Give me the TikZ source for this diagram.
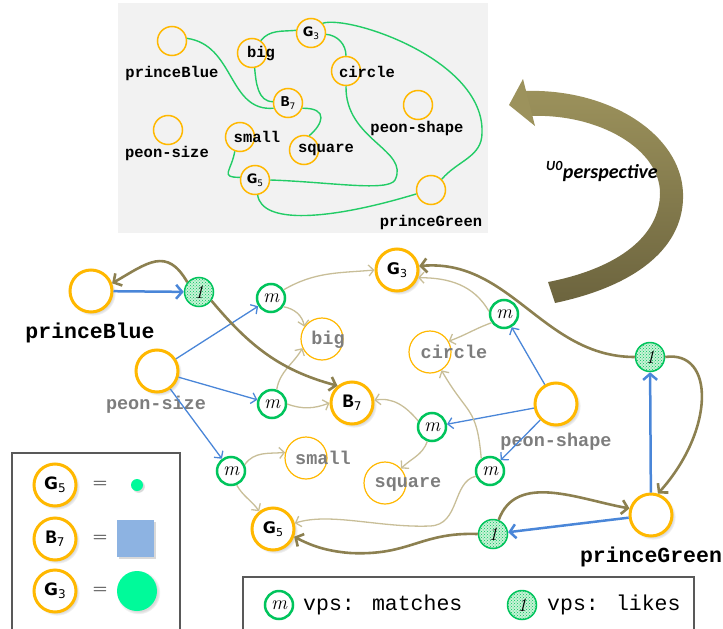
\documentclass[tikz,border=0pt]{standalone}
\usepackage{fontspec}
\usetikzlibrary{arrows.meta,shadows,patterns}
\newfontfamily\monof{Liberation Mono}
\newfontfamily\dvsf{DejaVu Sans}
\newfontfamily\carlf{Carlito}
\definecolor{orng}{RGB}{255,184,0}
\definecolor{grn}{RGB}{0,196,92}
\definecolor{blu}{RGB}{74,134,216}
\definecolor{mytan}{RGB}{200,190,152}
\definecolor{olv}{RGB}{140,128,80}
\definecolor{olvL}{RGB}{156,146,92}
\definecolor{olvD}{RGB}{108,100,62}
\definecolor{gtxt}{RGB}{125,125,125}
\definecolor{igrn}{RGB}{34,204,102}
\definecolor{sgrn}{RGB}{0,250,154}
\definecolor{sqb}{RGB}{141,179,226}
\definecolor{lfill}{RGB}{200,242,214}
\definecolor{boxg}{RGB}{242,242,242}
\newcommand{\Gsub}[3]{{\fontsize{#1}{#1}\selectfont\dvsf\bfseries G}\raisebox{-0.6ex}{\fontsize{#2}{#2}\selectfont\dvsf #3}}
\newcommand{\Bsub}[3]{{\fontsize{#1}{#1}\selectfont\monof\bfseries B}\raisebox{-0.6ex}{\fontsize{#2}{#2}\selectfont\dvsf #3}}
\tikzset{
  othick/.style={circle, draw=orng, line width=3pt, fill=white, minimum size=42pt, inner sep=0pt,
    circular drop shadow={opacity=0.3, shadow xshift=2pt, shadow yshift=-2pt, shadow scale=1.08}},
  othin/.style={circle, draw=orng, line width=1.2pt, fill=white, minimum size=42pt, inner sep=0pt},
  iorng/.style={circle, draw=orng, line width=1.5pt, minimum size=29pt, inner sep=0pt},
  mnode/.style={circle, draw=grn, line width=2.5pt, fill=white, minimum size=28pt, inner sep=0pt, font=\fontsize{20}{20}\selectfont\itshape},
  lnode/.style={circle, draw=grn, line width=1.5pt, fill=lfill, minimum size=29pt, inner sep=0pt,
    postaction={pattern=crosshatch dots, pattern color=grn}, font=\fontsize{19}{19}\selectfont\itshape},
  lab/.style={font=\fontsize{21.5}{21.5}\selectfont\monof\bfseries, inner sep=0pt},
  glab/.style={font=\fontsize{18.5}{18.5}\selectfont\monof\bfseries, text=gtxt, inner sep=0pt},
  ilab/.style={font=\fontsize{15.5}{15.5}\selectfont\monof\bfseries, inner sep=0pt},
  vps/.style={font=\fontsize{21.5}{21.5}\selectfont\monof, inner sep=0pt, anchor=west},
  eqs/.style={font=\fontsize{20}{20}\selectfont, inner sep=0pt},
  blueE/.style={draw=blu, line width=1.3pt, -{Straight Barb[length=5pt,width=11pt]}},
  blueT/.style={draw=blu, line width=2.5pt, -{Straight Barb[length=6pt,width=14pt]}},
  tanE/.style={draw=mytan, line width=1.3pt, -{Straight Barb[length=5pt,width=11pt]}},
  olvE/.style={draw=olv, line width=2.6pt, -{Straight Barb[length=6pt,width=14pt]}},
  iedge/.style={draw=igrn, line width=1.4pt},
}
\begin{document}
\begin{tikzpicture}[x=1pt,y=1pt]
\useasboundingbox (0,0) rectangle (723,-629);

% ---------- inset ----------
\fill[boxg] (118,-3) rectangle (488,-233);
\node[iorng] (iPB) at (172,-41) {};
\node[ilab] (iPBl) at (172,-73) {princeBlue};
\node[iorng] (iPS) at (168,-130) {};
\node[ilab] (iPSl) at (167,-153) {peon-size};
\node[iorng] (iBig) at (252,-53) {};
\node[ilab] (iBigl) at (261,-54) {big};
\node[iorng] (iG3) at (311,-33) {\Gsub{13}{9}{3}};
\node[iorng] (iCirc) at (346,-71) {};
\node[ilab] (iCircl) at (367,-72) {circle};
\node[iorng] (iB7) at (288,-103) {\Bsub{15}{9}{7}};
\node[iorng] (iSm) at (240,-137) {};
\node[ilab] (iSml) at (257,-137) {small};
\node[iorng] (iSq) at (304,-150) {};
\node[ilab] (iSql) at (326,-150) {square};
\node[iorng] (iPSh) at (418,-105) {};
\node[ilab] (iPShl) at (417,-128) {peon-shape};
\node[iorng] (iG5) at (255,-180) {\Gsub{13}{9}{5}};
\node[iorng] (iPG) at (431,-190) {};
\node[ilab] (iPGl) at (431,-222) {princeGreen};

\draw[iedge] (iPB.10) .. controls (235,-45) and (228,-112) .. (iB7.200);
\draw[iedge] (iBig.55) to[out=50,in=185] (iG3.170);
\draw[iedge] (iBig.-80) to[out=-85,in=180] (iB7.175);
\draw[iedge] (iG3.-5) to[out=-5,in=90] (iCirc.north);
\draw[iedge] (iG3.40) .. controls (350,-15) and (485,-60) .. (482,-133) to[out=-90,in=50] (iPG.45);
\draw[iedge] (iCirc.south) .. controls (345,-140) and (410,-150) .. (395,-180) .. controls (388,-192) and (330,-182) .. (iG5.east);
\draw[iedge] (iB7.-20) .. controls (330,-108) and (322,-125) .. (iSq.70);
\draw[iedge] (iSm.-110) to[out=-100,in=180,looseness=2] (iG5.170);
\draw[iedge] (iG5.-80) .. controls (262,-225) and (330,-220) .. (iPG.195);

% ---------- big perspective arrow ----------
\shade[top color=olvL, bottom color=olvD]
  (555,-303) .. controls (640,-285) and (685,-245) .. (683,-193)
  .. controls (681,-135) and (610,-88) .. (524,-91)
  -- (529,-116)
  .. controls (600,-113) and (660,-150) .. (660,-193)
  .. controls (660,-235) and (620,-268) .. (548,-282) -- cycle;
\fill[olvL] (509,-105) -- (523,-79) -- (535,-126) -- cycle;
\node[font=\fontsize{20}{20}\selectfont\carlf\bfseries\itshape, anchor=base, inner sep=0pt] (persp) at (602,-178) {\textsuperscript{U0}perspective};

% ---------- main nodes ----------
\node[othick] (pB) at (91,-291) {};
\node[lab] (pBl) at (90,-333) {princeBlue};
\node[lnode] (l1) at (199,-292) {1};
\node[othick] (pS) at (157,-371) {};
\node[glab] (pSl) at (156,-405) {peon-size};
\node[mnode] (m1) at (271,-298) {m};
\node[othin] (big) at (322,-339) {};
\node[glab] (bigl) at (328,-340) {big};
\node[mnode] (m2) at (272,-404) {m};
\node[othick] (B7) at (352,-403) {\Bsub{19}{12}{7}};
\node[othick] (G3) at (397,-270) {\Gsub{16}{11}{3}};
\node[mnode] (m3) at (504,-314) {m};
\node[othin] (circ) at (430,-352) {};
\node[glab] (circl) at (454,-352) {circle};
\node[lnode] (l2) at (650,-357) {1};
\node[othick] (pSh) at (556,-404) {};
\node[glab] (pShl) at (556,-442) {peon-shape};
\node[mnode] (m4) at (432,-427) {m};
\node[othin] (sq) at (385,-483) {};
\node[glab] (sql) at (408,-484) {square};
\node[mnode] (m5) at (490,-471) {m};
\node[mnode] (m6) at (231,-471) {m};
\node[othin] (sm) at (306,-458) {};
\node[glab] (sml) at (323,-458) {small};
\node[othick] (G5) at (273,-529) {\Gsub{16}{11}{5}};
\node[lnode] (l3) at (493,-534) {1};
\node[othick] (pG) at (651,-515) {};
\node[lab] (pGl) at (651,-557) {princeGreen};

% ---------- blue edges ----------
\draw[blueT] (pB) -- (l1);
\draw[blueE] (pS) -- (m1);
\draw[blueE] (pS) -- (m2);
\draw[blueE] (pS) -- (m6);
\draw[blueE] (pSh) -- (m3);
\draw[blueE] (pSh) -- (m4);
\draw[blueE] (pSh) -- (m5);
\draw[blueT] (pG) -- (l2);
\draw[blueT] (pG) -- (l3);

% ---------- tan edges ----------
\draw[tanE] (m1.33) to[out=30,in=185] (G3.west);
\draw[tanE] (m1.-35) to[out=-10,in=100] (big.145);
\draw[tanE] (m2.72) to[out=80,in=240] (big.205);
\draw[tanE] (m2.east) to[out=-20,in=200] (B7.west);
\draw[tanE] (m6.25) to[out=55,in=185] (sm.165);
\draw[tanE] (m6.-68) to[out=-60,in=125] (G5.128);
\draw[tanE] (m3.170) to[out=120,in=0] (G3.-20);
\draw[tanE] (m3.215) to[out=200,in=20] (circ.30);
\draw[tanE] (m4.156) to[out=130,in=10] (B7.7);
\draw[tanE] (m4.252) to[out=250,in=45] (sq.42);
\draw[tanE] (m5.125) to[out=95,in=-60,looseness=1.4] (circ.-58);
\draw[tanE] (m5.200) .. controls (452,-482) and (460,-525) .. (430,-526) .. controls (380,-528) and (330,-512) .. (G5.15);

% ---------- olive edges ----------
\draw[olvE] (l1.140) to[out=120,in=30,looseness=1.4] (pB.20);
\draw[olvE] (l1.-35) to[out=-50,in=165] (B7.130);
\draw[olvE] (l2.west) to[out=180,in=5] (G3.10);
\draw[olvE] (l2.east) .. controls (715,-350) and (715,-430) .. (pG.72);
\draw[olvE] (l3.68) to[out=70,in=170] (pG.163);
\draw[olvE] (l3.west) .. controls (420,-532) and (410,-556) .. (350,-553) .. controls (325,-551) and (310,-545) .. (G5.-20);

% ---------- left legend ----------
\draw[line width=1.2pt, draw=black!65] (12,-629) -- (12,-453) -- (180,-453) -- (180,-629);
\node[othick] (lgG5) at (55,-485) {\Gsub{17}{12}{5}};
\node[eqs] (eq1) at (100,-485) {=};
\node[circle, fill=sgrn, minimum size=12pt, inner sep=0pt, circular drop shadow={opacity=0.3}] (dot) at (137,-485) {};
\node[othick] (lgB7) at (55,-539) {\Bsub{19}{12}{7}};
\node[eqs] (eq2) at (100,-539) {=};
\node[fill=sqb, minimum size=37pt, inner sep=0pt, drop shadow={opacity=0.3, shadow xshift=2pt, shadow yshift=-2pt}] (sqr) at (135.5,-538.5) {};
\node[othick] (lgG3) at (55,-591) {\Gsub{17}{12}{3}};
\node[eqs] (eq3) at (100,-591) {=};
\node[circle, fill=sgrn, minimum size=40pt, inner sep=0pt, circular drop shadow={opacity=0.3}] (bigdot) at (137,-591) {};

% ---------- bottom legend ----------
\draw[line width=1.2pt, draw=black!65] (243,-629) -- (243,-577) -- (694,-577) -- (694,-629);
\node[mnode] (lgm) at (279,-605) {m};
\node[vps] (lgmt) at (303,-605) {vps: matches};
\node[lnode] (lgl) at (522,-605) {1};
\node[vps] (lglt) at (547,-605) {vps: likes};
\end{tikzpicture}
\end{document}
